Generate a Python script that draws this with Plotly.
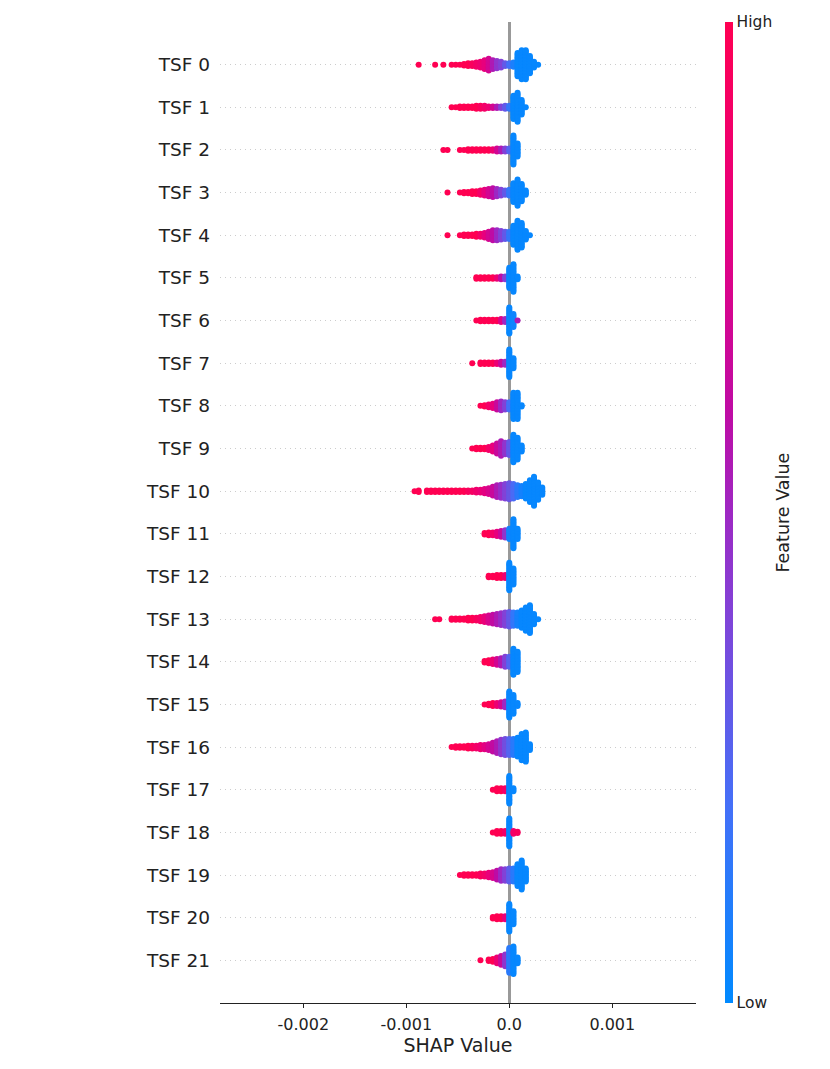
import plotly.graph_objects as go

### data ----------------------------------------------------------------------------------------------------------------

FEATURES = ["TSF 0", "TSF 1", "TSF 2", "TSF 3", "TSF 4", "TSF 5", "TSF 6", "TSF 7", "TSF 8", "TSF 9", "TSF 10",
            "TSF 11", "TSF 12", "TSF 13", "TSF 14", "TSF 15", "TSF 16", "TSF 17", "TSF 18", "TSF 19", "TSF 20",
            "TSF 21"]

# SHAP value bins (the swarm is drawn per bin)
SHAP_BINS = [-0.00092, -0.00088, -0.00084, -0.00080, -0.00076, -0.00072, -0.00068, -0.00064,
             -0.00060, -0.00056, -0.00052, -0.00048, -0.00044, -0.00040, -0.00036, -0.00032,
             -0.00028, -0.00024, -0.00020, -0.00016, -0.00012, -0.00008, -0.00004, 0.0,
             0.00004, 0.00008, 0.00012, 0.00016, 0.00020, 0.00024, 0.00028, 0.00032]

# number of samples per bin, one row per feature
COUNTS = [
    [0, 1, 0, 0, 0, 1, 0, 1,  0, 1, 1, 1, 2, 3, 3, 4,  5, 7, 9, 7, 6, 5, 3, 3,  4, 17, 21, 21, 13, 5, 1, 0],   # TSF 0
    [0, 0, 0, 0, 0, 0, 0, 0,  0, 1, 1, 2, 2, 2, 2, 3,  3, 3, 2, 2, 2, 2, 3, 3,  17, 21, 11, 1, 0, 0, 0, 0],  # TSF 1
    [0, 0, 0, 0, 0, 0, 0, 1,  1, 0, 0, 1, 1, 2, 2, 2,  2, 2, 2, 2, 3, 3, 3, 3,  21, 10, 0, 0, 0, 0, 0, 0],   # TSF 2
    [0, 0, 0, 0, 0, 0, 0, 0,  1, 0, 0, 1, 2, 2, 3, 3,  4, 5, 6, 7, 6, 5, 4, 5,  14, 19, 13, 4, 0, 0, 0, 0],  # TSF 3
    [0, 0, 0, 0, 0, 0, 0, 0,  1, 0, 0, 1, 2, 2, 2, 3,  3, 4, 6, 8, 8, 7, 6, 6,  14, 21, 18, 7, 1, 0, 0, 0],  # TSF 4
    [0, 0, 0, 0, 0, 0, 0, 0,  0, 0, 0, 0, 0, 0, 0, 2,  2, 2, 2, 2, 2, 3, 3, 15,  20, 3, 0, 0, 0, 0, 0, 0],   # TSF 5
    [0, 0, 0, 0, 0, 0, 0, 0,  0, 0, 0, 0, 0, 0, 0, 1,  2, 2, 2, 2, 2, 3, 3, 19,  10, 1, 0, 0, 0, 0, 0, 0],   # TSF 6
    [0, 0, 0, 0, 0, 0, 0, 0,  0, 0, 0, 0, 0, 0, 1, 0,  2, 2, 2, 2, 2, 3, 3, 20,  8, 0, 0, 0, 0, 0, 0, 0],    # TSF 7
    [0, 0, 0, 0, 0, 0, 0, 0,  0, 0, 0, 0, 0, 0, 0, 0,  1, 2, 3, 4, 6, 7, 6, 6,  19, 19, 2, 0, 0, 0, 0, 0],   # TSF 8
    [0, 0, 0, 0, 0, 0, 0, 0,  0, 0, 0, 0, 0, 0, 1, 2,  2, 2, 3, 5, 8, 11, 9, 10,  20, 16, 5, 0, 0, 0, 0, 0], # TSF 9
    [1, 2, 0, 2, 2, 2, 2, 2,  2, 2, 2, 2, 2, 2, 2, 3,  3, 4, 5, 7, 9, 10, 11, 12,  11, 9, 8, 11, 16, 21, 13, 6],  # TSF 10
    [0, 0, 0, 0, 0, 0, 0, 0,  0, 0, 0, 0, 0, 0, 0, 0,  0, 2, 3, 3, 4, 5, 6, 8,  21, 8, 0, 0, 0, 0, 0, 0],    # TSF 11
    [0, 0, 0, 0, 0, 0, 0, 0,  0, 0, 0, 0, 0, 0, 0, 0,  0, 0, 2, 2, 3, 3, 3, 20,  12, 0, 0, 0, 0, 0, 0, 0],   # TSF 12
    [0, 0, 0, 0, 0, 1, 1, 0,  0, 2, 2, 2, 2, 3, 3, 3,  4, 5, 6, 7, 8, 9, 10, 11,  10, 10, 13, 17, 20, 8, 1, 0],  # TSF 13
    [0, 0, 0, 0, 0, 0, 0, 0,  0, 0, 0, 0, 0, 0, 0, 0,  0, 2, 3, 4, 5, 6, 8, 8,  19, 15, 0, 0, 0, 0, 0, 0],   # TSF 14
    [0, 0, 0, 0, 0, 0, 0, 0,  0, 0, 0, 0, 0, 0, 0, 0,  0, 1, 2, 3, 3, 4, 5, 19,  14, 3, 0, 0, 0, 0, 0, 0],   # TSF 15
    [0, 0, 0, 0, 0, 0, 0, 0,  0, 1, 2, 2, 2, 3, 3, 3,  4, 4, 5, 7, 9, 11, 12, 12,  12, 14, 19, 21, 5, 0, 0, 0],  # TSF 16
    [0, 0, 0, 0, 0, 0, 0, 0,  0, 0, 0, 0, 0, 0, 0, 0,  0, 0, 0, 1, 3, 3, 3, 20,  3, 0, 0, 0, 0, 0, 0, 0],    # TSF 17
    [0, 0, 0, 0, 0, 0, 0, 0,  0, 0, 0, 0, 0, 0, 0, 0,  0, 0, 0, 1, 3, 3, 3, 20,  3, 2, 0, 0, 0, 0, 0, 0],    # TSF 18
    [0, 0, 0, 0, 0, 0, 0, 0,  0, 0, 0, 1, 2, 2, 2, 2,  3, 3, 4, 5, 7, 9, 9, 10,  10, 16, 21, 10, 0, 0, 0, 0],  # TSF 19
    [0, 0, 0, 0, 0, 0, 0, 0,  0, 0, 0, 0, 0, 0, 0, 0,  0, 0, 0, 2, 3, 3, 3, 20,  10, 0, 0, 0, 0, 0, 0, 0],   # TSF 20
    [0, 0, 0, 0, 0, 0, 0, 0,  0, 0, 0, 0, 0, 0, 0, 0,  1, 0, 2, 3, 5, 7, 9, 18,  20, 5, 0, 0, 0, 0, 0, 0],   # TSF 21
]

# mean (normalised) feature value of the samples in each bin, 0 = low, 1 = high
FEATURE_VALUES = [
    [0, 1, 0, 0, 0, 1, 0, 1,  0, 1, 1, 1, 1, 1, .95, .9,  .85, .8, .7, .55, .45, .4, .3, .2,  .08, .02, .02, .02, .02, .02, .02, 0],
    [0, 0, 0, 0, 0, 0, 0, 0,  0, 1, 1, 1, 1, 1, 1, 1,  .95, .9, .85, .7, .55, .4, .3, .15,  .02, .02, .02, .02, 0, 0, 0, 0],
    [0, 0, 0, 0, 0, 0, 0, 1,  1, 0, 0, 1, 1, 1, 1, 1,  1, 1, 1, .85, .7, .55, .4, .25,  .02, .02, 0, 0, 0, 0, 0, 0],
    [0, 0, 0, 0, 0, 0, 0, 0,  1, 0, 0, 1, 1, 1, 1, 1,  .9, .8, .7, .6, .5, .4, .3, .15,  .02, .02, .02, .02, 0, 0, 0, 0],
    [0, 0, 0, 0, 0, 0, 0, 0,  1, 0, 0, 1, 1, 1, 1, 1,  .9, .8, .7, .6, .5, .4, .3, .15,  .02, .02, .02, .02, .02, 0, 0, 0],
    [0, 0, 0, 0, 0, 0, 0, 0,  0, 0, 0, 0, 0, 0, 0, 1,  1, 1, 1, 1, .85, .6, .4, .02,  .02, .02, 0, 0, 0, 0, 0, 0],
    [0, 0, 0, 0, 0, 0, 0, 0,  0, 0, 0, 0, 0, 0, 0, 1,  1, 1, 1, 1, 1, .75, .5, .02,  .04, .55, 0, 0, 0, 0, 0, 0],
    [0, 0, 0, 0, 0, 0, 0, 0,  0, 0, 0, 0, 0, 0, 1, 0,  1, 1, 1, 1, .85, .65, .5, .02,  .02, 0, 0, 0, 0, 0, 0, 0],
    [0, 0, 0, 0, 0, 0, 0, 0,  0, 0, 0, 0, 0, 0, 0, 0,  1, 1, .9, .8, .65, .5, .4, .2,  .02, .02, .02, 0, 0, 0, 0, 0],
    [0, 0, 0, 0, 0, 0, 0, 0,  0, 0, 0, 0, 0, 0, 1, 1,  1, 1, .9, .8, .65, .55, .45, .3,  .02, .02, .02, 0, 0, 0, 0, 0],
    [1, 1, 0, 1, 1, 1, 1, 1,  1, 1, 1, 1, 1, .95, .92, .88,  .83, .78, .72, .65, .55, .48, .4, .32,  .22, .12, .06, .02, .02, .02, .02, .02],
    [0, 0, 0, 0, 0, 0, 0, 0,  0, 0, 0, 0, 0, 0, 0, 0,  0, 1, 1, .9, .8, .65, .45, .05,  .02, .02, 0, 0, 0, 0, 0, 0],
    [0, 0, 0, 0, 0, 0, 0, 0,  0, 0, 0, 0, 0, 0, 0, 0,  0, 0, 1, 1, 1, 1, .85, .02,  .02, 0, 0, 0, 0, 0, 0, 0],
    [0, 0, 0, 0, 0, 1, 1, 0,  0, 1, 1, 1, 1, 1, 1, .95,  .9, .82, .72, .62, .55, .48, .4, .3,  .15, .06, .02, .02, .02, .02, .02, 0],
    [0, 0, 0, 0, 0, 0, 0, 0,  0, 0, 0, 0, 0, 0, 0, 0,  0, 1, 1, .85, .7, .55, .4, .25,  .02, .02, 0, 0, 0, 0, 0, 0],
    [0, 0, 0, 0, 0, 0, 0, 0,  0, 0, 0, 0, 0, 0, 0, 0,  0, 1, 1, 1, .85, .7, .5, .02,  .02, .02, 0, 0, 0, 0, 0, 0],
    [0, 0, 0, 0, 0, 0, 0, 0,  0, 1, 1, 1, 1, 1, .95, .9,  .85, .78, .7, .62, .55, .45, .35, .25,  .12, .02, .02, .02, .02, 0, 0, 0],
    [0, 0, 0, 0, 0, 0, 0, 0,  0, 0, 0, 0, 0, 0, 0, 0,  0, 0, 0, 1, 1, 1, .9, .02,  .02, 0, 0, 0, 0, 0, 0, 0],
    [0, 0, 0, 0, 0, 0, 0, 0,  0, 0, 0, 0, 0, 0, 0, 0,  0, 0, 0, 1, 1, 1, .9, .02,  .9, .95, 0, 0, 0, 0, 0, 0],
    [0, 0, 0, 0, 0, 0, 0, 0,  0, 0, 0, 1, 1, 1, 1, 1,  .95, .9, .82, .72, .6, .5, .4, .28,  .12, .02, .02, .02, 0, 0, 0, 0],
    [0, 0, 0, 0, 0, 0, 0, 0,  0, 0, 0, 0, 0, 0, 0, 0,  0, 0, 0, 1, 1, 1, .8, .02,  .02, 0, 0, 0, 0, 0, 0, 0],
    [0, 0, 0, 0, 0, 0, 0, 0,  0, 0, 0, 0, 0, 0, 0, 0,  1, 0, 1, 1, .85, .65, .45, .12,  .02, .02, 0, 0, 0, 0, 0, 0],
]

X_TICKS = [-0.002, -0.001, 0.0, 0.001]
X_TICK_LABELS = ["-0.002", "-0.001", "0.0", "0.001"]

### style --------------------------------------------------------------------------------------------------------------

FONT = "DejaVu Sans"
TEXT = "#222222"
RED_BLUE = [[0.0, "rgb(0,138,255)"], [0.2, "rgb(68,112,248)"], [0.4, "rgb(130,66,215)"],
            [0.5, "rgb(158,40,195)"], [0.6, "rgb(190,12,165)"], [0.8, "rgb(232,0,125)"],
            [1.0, "rgb(255,0,82)"]]
ROW_PX = 42.65
DOT_STEP = 1.45 / ROW_PX   # vertical spacing of stacked dots, in row units

### beeswarm layout ----------------------------------------------------------------------------------------------------

xs, ys, cs = [], [], []
n_feat = len(FEATURES)
for i in range(n_feat):
    row = n_feat - 1 - i
    for x, n, c in zip(SHAP_BINS, COUNTS[i], FEATURE_VALUES[i]):
        for j in range(n):
            xs.append(x)
            ys.append(row + (j - (n - 1) / 2) * DOT_STEP)
            cs.append(c)

fig = go.Figure()
fig.add_trace(go.Scatter(
    x=xs, y=ys, mode="markers", hoverinfo="skip", showlegend=False,
    marker=dict(size=6, color=cs, cmin=0, cmax=1, colorscale=RED_BLUE, line=dict(width=0),
                colorbar=dict(x=1.0609, xanchor="left", xpad=0, y=0.5, yanchor="middle", len=1,
                              lenmode="fraction", ypad=0, thickness=8, outlinewidth=0,
                              tickvals=[0, 1], ticktext=["Low", "High"], ticks="",
                              tickfont=dict(family=FONT, size=15.5, color=TEXT))),
))

# colorbar title, placed like the matplotlib one
fig.add_annotation(text="Feature Value", xref="paper", yref="paper", x=1.1807, y=0.5,
                   xanchor="center", yanchor="middle", textangle=-90, showarrow=False,
                   font=dict(family=FONT, size=17.5, color=TEXT))

# the page body adds an 8px offset, so the margins are shifted by that much
fig.update_layout(
    width=830, height=1069, autosize=False,
    margin=dict(l=212, r=142, t=14, b=74),
    paper_bgcolor="white", plot_bgcolor="white",
    font=dict(family=FONT, color=TEXT),
)
fig.update_xaxes(
    range=[-0.0028087, 0.0018126], tickvals=X_TICKS, ticktext=X_TICK_LABELS,
    tickfont=dict(size=16, color=TEXT), ticks="outside", ticklen=4, tickcolor=TEXT,
    ticklabelstandoff=3,
    showline=True, linecolor=TEXT, linewidth=1, showgrid=False,
    zeroline=True, zerolinecolor="#999999", zerolinewidth=2.5,
    title=dict(text="SHAP Value", font=dict(size=19, color=TEXT), standoff=4),
)
fig.update_yaxes(
    range=[-1, n_feat], tickvals=list(range(n_feat)), ticktext=FEATURES[::-1],
    tickfont=dict(size=18.5, color=TEXT), ticks="", ticklabelstandoff=9,
    showline=False, zeroline=False,
    showgrid=True, gridcolor="#cccccc", gridwidth=0.8, griddash="1px,4px",
)

fig.write_html("out.html")
